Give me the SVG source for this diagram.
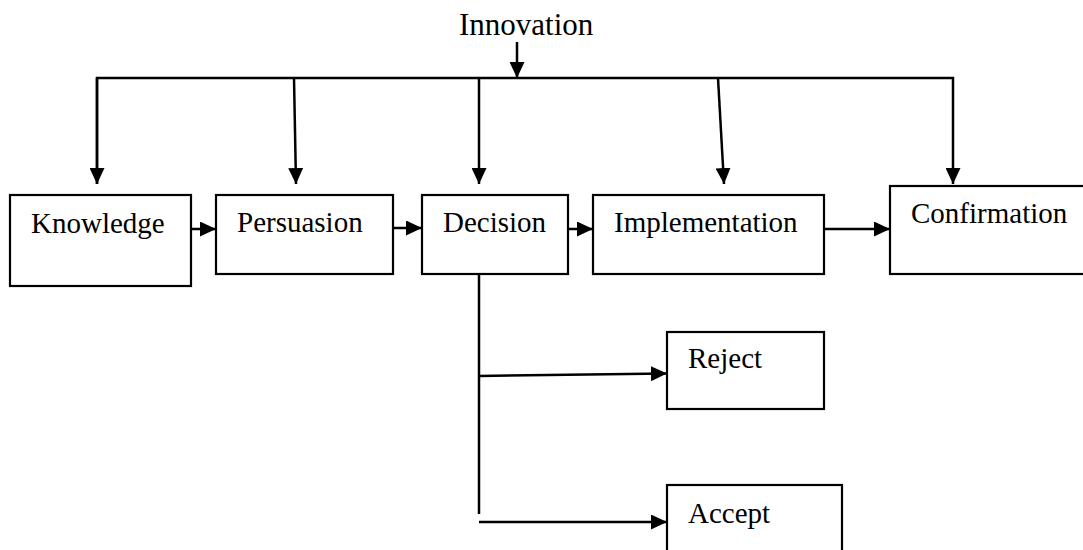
<svg xmlns="http://www.w3.org/2000/svg" width="1083" height="550" viewBox="0 0 1083 550">
<style>
.box{fill:#fff;stroke:#000;stroke-width:2.2}
.lbl{font-family:"Liberation Serif","Times New Roman",serif;font-size:29px;fill:#000}
.ln{fill:none;stroke:#000;stroke-width:2.5}
</style>
<defs>
<marker id="ah" viewBox="0 0 16 15" refX="16" refY="7.5" markerWidth="16" markerHeight="15" markerUnits="userSpaceOnUse" orient="auto">
<path d="M0,0 L16,7.5 L0,15 z" fill="#000"/>
</marker>
</defs>
<rect width="1083" height="550" fill="#fff"/>
<g id="innovation">
<text class="lbl" x="459" y="35" style="font-size:31px">Innovation</text>
</g>
<g id="knowledge">
<rect class="box" x="10" y="195" width="181" height="91"/>
<text class="lbl" x="31" y="233">Knowledge</text>
</g>
<g id="persuasion">
<rect class="box" x="216" y="195" width="177" height="79"/>
<text class="lbl" x="237" y="232">Persuasion</text>
</g>
<g id="decision">
<rect class="box" x="422" y="195" width="146" height="79"/>
<text class="lbl" x="443" y="232">Decision</text>
</g>
<g id="implementation">
<rect class="box" x="593" y="195" width="231" height="79"/>
<text class="lbl" x="614" y="232">Implementation</text>
</g>
<g id="confirmation">
<rect class="box" x="890" y="186" width="200" height="88"/>
<text class="lbl" x="911" y="223">Confirmation</text>
</g>
<g id="reject">
<rect class="box" x="667" y="332" width="157" height="77"/>
<text class="lbl" x="688" y="368">Reject</text>
</g>
<g id="accept">
<rect class="box" x="667" y="485" width="175" height="75"/>
<text class="lbl" x="688" y="523">Accept</text>
</g>
<g id="connectors">
<line class="ln" x1="517" y1="42" x2="517" y2="78" marker-end="url(#ah)"/>
<polyline class="ln" points="97,184 97,78 953,78 953,184" marker-end="url(#ah)"/>
<line class="ln" x1="97" y1="78" x2="97" y2="184" marker-end="url(#ah)"/>
<line class="ln" x1="294" y1="78" x2="296" y2="184" marker-end="url(#ah)"/>
<line class="ln" x1="479" y1="78" x2="479" y2="184" marker-end="url(#ah)"/>
<line class="ln" x1="718" y1="78" x2="724" y2="184" marker-end="url(#ah)"/>
<line class="ln" x1="191" y1="229" x2="216" y2="229" marker-end="url(#ah)"/>
<line class="ln" x1="393" y1="228" x2="422" y2="228" marker-end="url(#ah)"/>
<line class="ln" x1="568" y1="229" x2="593" y2="229" marker-end="url(#ah)"/>
<line class="ln" x1="824" y1="229" x2="890" y2="229" marker-end="url(#ah)"/>
<line class="ln" x1="479" y1="274" x2="479" y2="514"/>
<line class="ln" x1="479" y1="376" x2="667" y2="373.5" marker-end="url(#ah)"/>
<line class="ln" x1="479" y1="522" x2="667" y2="522" marker-end="url(#ah)"/>
</g>
</svg>
